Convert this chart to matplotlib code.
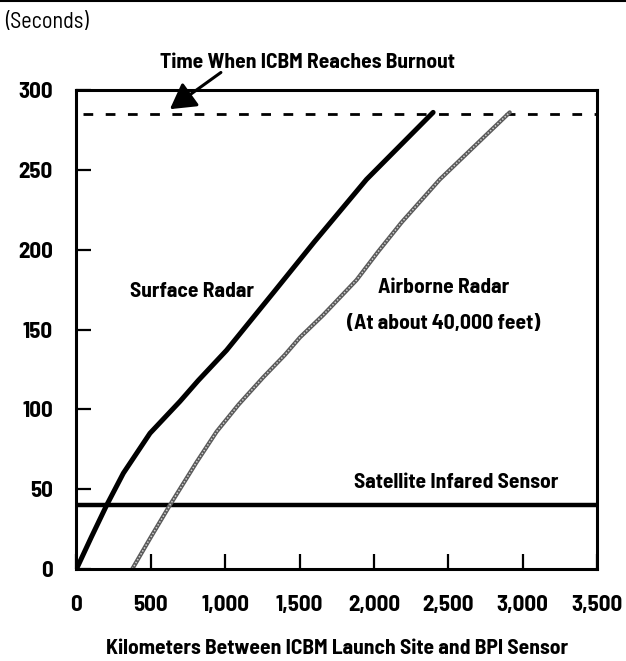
import matplotlib
matplotlib.use("Agg")
import matplotlib.pyplot as plt
from matplotlib.ticker import FuncFormatter

# data (km, seconds)
surface_km = [0, 100, 203, 315, 494, 696, 818, 1009, 1323, 1600, 1950, 2398]
surface_s = [0, 20, 40, 60, 85, 105, 118, 137, 173, 205, 244, 286]

airborne_km = [375, 500, 628, 808, 942, 1090, 1255, 1400, 1502, 1658, 1883, 2030, 2185, 2443, 2913]
airborne_s = [0, 20, 40, 67, 86, 103, 120, 134, 145, 159, 181, 199, 217, 244, 286]

satellite_s = 40
burnout_s = 285

x_ticks = [0, 500, 1000, 1500, 2000, 2500, 3000, 3500]
y_ticks = [0, 50, 100, 150, 200, 250, 300]

plt.rcParams['font.family'] = ['Barlow Semi Condensed', 'DejaVu Sans']
FS = 15.5
TS = 16.5
W = 700

fig = plt.figure(figsize=(6.26, 6.61), dpi=100)
ax = fig.add_axes([0.1222, 0.1392, 0.8315, 0.7246])

ax.set_xlim(0, 3500)
ax.set_ylim(0, 300)

# burnout and satellite
ax.axhline(burnout_s, color='black', lw=2, ls=(0, (3.5, 4.5)), xmin=0.012)
ax.axhline(satellite_s, color='black', lw=3.2)

# surface radar
ax.plot(surface_km, surface_s, color='black', lw=3.6, solid_capstyle='round')

# airborne radar (grey textured line)
ax.plot(airborne_km, airborne_s, color='#5a5a5a', lw=3.0, solid_capstyle='round')
ax.plot(airborne_km, airborne_s, color='#d0d0d0', lw=1.1, ls=(0, (1, 1.2)))

for s in ax.spines.values():
    s.set_linewidth(2.2)

ax.set_xticks(x_ticks)
ax.set_yticks(y_ticks)
ax.xaxis.set_major_formatter(FuncFormatter(lambda v, p: f"{int(v):,}"))
ax.tick_params(axis='both', direction='in', length=11, width=1.6,
               labelsize=TS)
ax.tick_params(axis='y', pad=17)
ax.tick_params(axis='x', pad=19)
for lab in ax.get_xticklabels() + ax.get_yticklabels():
    lab.set_fontweight(W)

ax.set_xlabel('Kilometers Between ICBM Launch Site and BPI Sensor',
              fontsize=FS, fontweight=W, labelpad=17)

ax.text(774, 174, 'Surface Radar', ha='center', va='center',
        fontsize=FS, fontweight=W)
ax.text(2470, 176, 'Airborne Radar', ha='center', va='center',
        fontsize=FS, fontweight=W)
ax.text(2470, 154, '(At about 40,000 feet)', ha='center', va='center',
        fontsize=FS, fontweight=W)
ax.text(2550, 54, 'Satellite Infared Sensor', ha='center', va='center',
        fontsize=FS, fontweight=W)

ax.text(1556, 317, 'Time When ICBM Reaches Burnout', ha='center',
        va='center', fontsize=FS, fontweight=W, clip_on=False)
ax.annotate('', xy=(628, 288), xytext=(971, 311), annotation_clip=False,
            arrowprops=dict(arrowstyle='-|>,head_length=0.7,head_width=0.4',
                            color='black', lw=2.2, mutation_scale=22,
                            shrinkA=0, shrinkB=0))

fig.text(0.008, 0.966, '(Seconds)', ha='left', va='center', fontsize=16,
         fontweight=400)
fig.add_artist(plt.Line2D([0, 1], [0.998, 0.998], color='black', lw=1.5))

fig.savefig('out.png', dpi=100)
